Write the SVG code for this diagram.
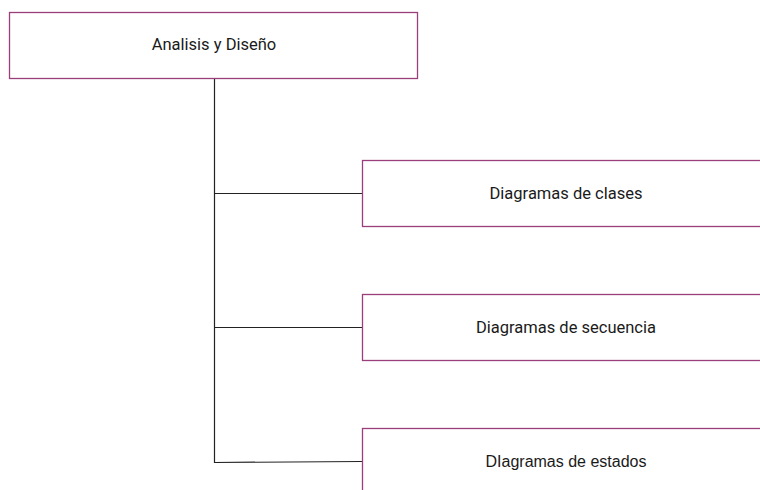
<svg xmlns="http://www.w3.org/2000/svg" width="760" height="490" viewBox="0 0 760 490">
  <style>
    .box { fill: #ffffff; stroke: #9b3f7c; stroke-width: 1.3; }
    .conn { fill: none; stroke: #222222; stroke-width: 1.2; }
    .lbl { font-family: Roboto, "Liberation Sans", Arial, sans-serif; font-size: 16.5px; fill: #1a1a1a; text-anchor: middle; }
    .alt { font-family: "Liberation Sans", Arial, sans-serif; font-size: 16px; }
  </style>
  <rect width="760" height="490" fill="#ffffff"/>
  <g id="connectors">
    <path class="conn" d="M214.5 78 V463"/>
    <path class="conn" d="M214.5 193.5 H362"/>
    <path class="conn" d="M214.5 327.5 H362"/>
    <path class="conn" d="M214.5 462.5 L362 461.5"/>
  </g>
  <g id="analisis">
    <rect class="box" x="9.5" y="12.5" width="408" height="66"/>
    <text class="lbl" x="214" y="49.5">Analisis y Diseño</text>
  </g>
  <g id="clases">
    <rect class="box" x="362.5" y="160.5" width="410" height="66"/>
    <text class="lbl" x="566" y="198.5">Diagramas de clases</text>
  </g>
  <g id="secuencia">
    <rect class="box" x="362.5" y="294.5" width="410" height="66"/>
    <text class="lbl" x="566" y="332.5">Diagramas de secuencia</text>
  </g>
  <g id="estados">
    <rect class="box" x="362.5" y="428.5" width="410" height="80"/>
    <text class="lbl alt" x="566" y="466.5">DIagramas de estados</text>
  </g>
</svg>
